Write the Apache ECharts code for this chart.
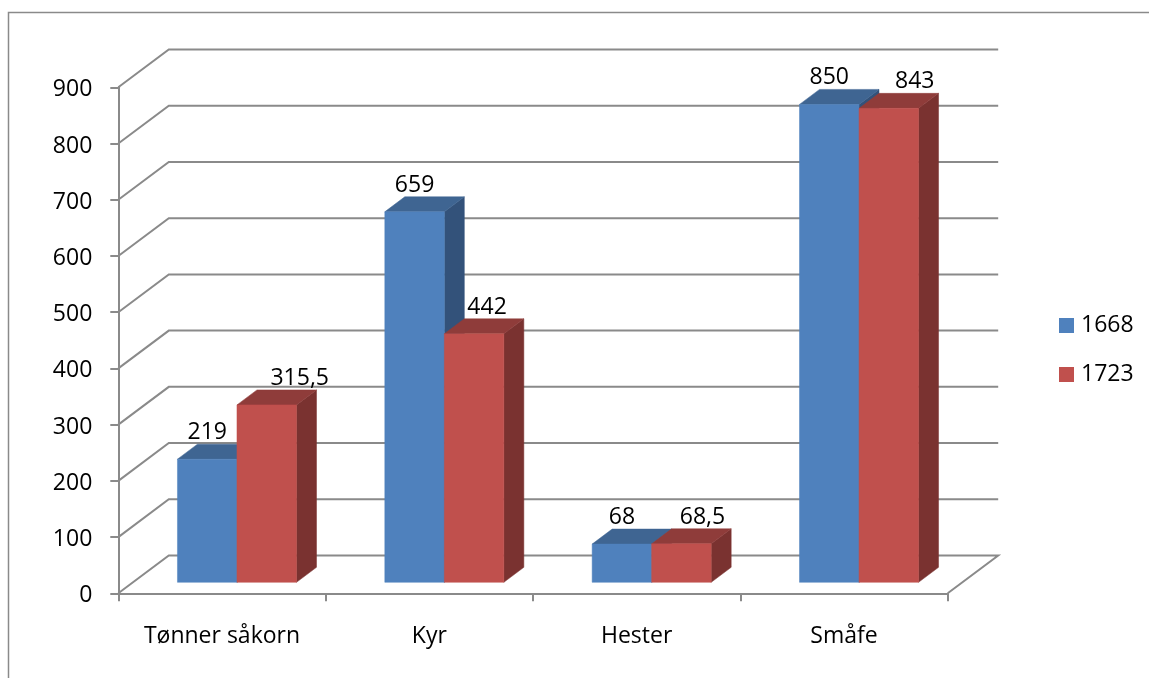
<!DOCTYPE html>
<html><head><meta charset="utf-8">
<style>html,body{margin:0;padding:0;background:#fff}#c{width:1149px;height:678px}</style>
<script src="https://cdn.jsdelivr.net/npm/echarts@6/dist/echarts.min.js"></script>
</head><body><div id="c"></div>
<script>
const categories = ['Tønner såkorn', 'Kyr', 'Hester', 'Småfe'];
const values1668 = [219, 659, 68, 850];
const values1723 = [315.5, 442, 68.5, 843];
const yTicks = [0, 100, 200, 300, 400, 500, 600, 700, 800, 900];
const redLabelNudge = [33, 13, 21, 26];

const FONT = '"Open Sans"';
const FS = 23;
const AXIS = '#8a8a8a';
const WALL = { dx: 50.5, dy: -37.8 };
const BAR = { dx: 20, dy: -15, ox: 15, oy: -11, ratio: 0.287, labelY: -26.5 };

function bar3d(palette, sign, nudge) {
  return function (params, api) {
    const i = api.value(0), v = api.value(1);
    const base = api.coord([i, 0]), top = api.coord([i, v]);
    const w = api.size([1, 0])[0] * BAR.ratio;
    const x0 = base[0] + BAR.ox + (sign > 0 ? 0 : -w), x1 = x0 + w;
    const yb = base[1] + BAR.oy, yt = top[1] + BAR.oy;
    const d = BAR;
    const poly = (pts, fill) => ({ type: 'polygon', shape: { points: pts }, style: { fill: fill, stroke: fill, lineWidth: 0.5 } });
    return { type: 'group', children: [
      poly([[x1, yb], [x1 + d.dx, yb + d.dy], [x1 + d.dx, yt + d.dy], [x1, yt]], palette.side),
      poly([[x0, yt], [x0 + d.dx, yt + d.dy], [x1 + d.dx, yt + d.dy], [x1, yt]], palette.top),
      poly([[x0, yb], [x1, yb], [x1, yt], [x0, yt]], palette.front),
      { type: 'text', z2: 10, style: {
          x: (x0 + x1) / 2 + (nudge ? nudge[i] : 0), y: yt + d.labelY,
          text: String(v).replace('.', ','), fill: '#000', font: FS + 'px ' + FONT,
          align: 'center', verticalAlign: 'middle' } }
    ]};
  };
}

function wallLine(params, api) {
  const v = api.value(0), cs = params.coordSys;
  const y = api.coord([0, v])[1];
  const pts = [[cs.x, y], [cs.x + WALL.dx, y + WALL.dy], [cs.x + cs.width + WALL.dx, y + WALL.dy]];
  if (v === 0) pts.push([cs.x + cs.width, y]);
  return { type: 'polyline', shape: { points: pts }, style: { stroke: AXIS, lineWidth: 2, fill: null } };
}

const chart = echarts.init(document.getElementById('c'), null, { renderer: 'canvas' });
chart.setOption({
  animation: false,
  backgroundColor: '#fff',
  textStyle: { fontFamily: 'Open Sans' },
  graphic: [
    { type: 'polyline', silent: true, shape: { points: [[8.5, 678], [8.5, 12.5], [1149, 12.5]] }, style: { stroke: AXIS, lineWidth: 1.5, fill: null } }
  ],
  grid: { left: 118.3, right: 1149 - 947.7, top: 87.3, bottom: 678 - 593.3 },
  legend: {
    orient: 'vertical', left: 1054, top: 304, itemWidth: 15, itemHeight: 15, itemGap: 16,
    icon: 'rect', selectedMode: false,
    data: ['1668', '1723'],
    textStyle: { fontFamily: 'Open Sans', fontSize: FS, color: '#000', padding: [2, 0, 0, 2], lineHeight: 31 }
  },
  xAxis: {
    type: 'category', data: categories, boundaryGap: true,
    axisLine: { show: true, lineStyle: { color: AXIS, width: 2 } },
    axisTick: { show: true, length: 8, lineStyle: { color: AXIS, width: 2 } },
    axisLabel: { color: '#000', fontFamily: 'Open Sans', fontSize: FS, margin: 32 },
    splitLine: { show: false }
  },
  yAxis: {
    type: 'value', min: 0, max: 900, interval: 100,
    axisLine: { show: true, lineStyle: { color: AXIS, width: 2 } },
    axisTick: { show: true, length: 8, lineStyle: { color: AXIS, width: 2 } },
    axisLabel: { color: '#000', fontFamily: 'Open Sans', fontSize: FS, margin: 26, verticalAlign: 'top', lineHeight: 5 },
    splitLine: { show: false }
  },
  series: [
    { type: 'custom', name: 'walls', silent: true, z: 1, clip: false, renderItem: wallLine, data: yTicks.map(v => [v]), encode: { y: 0 } },
    { type: 'custom', name: '1668', z: 3, clip: false, itemStyle: { color: '#4F81BD' },
      renderItem: bar3d({ front: '#4F81BD', top: '#3F6592', side: '#33527A' }, -1, null),
      data: values1668.map((v, i) => [i, v]), encode: { x: 0, y: 1 } },
    { type: 'custom', name: '1723', z: 4, clip: false, itemStyle: { color: '#C0504D' },
      renderItem: bar3d({ front: '#C0504D', top: '#8F3C3A', side: '#7A3230' }, 1, redLabelNudge),
      data: values1723.map((v, i) => [i, v]), encode: { x: 0, y: 1 } }
  ]
});
</script></body></html>
